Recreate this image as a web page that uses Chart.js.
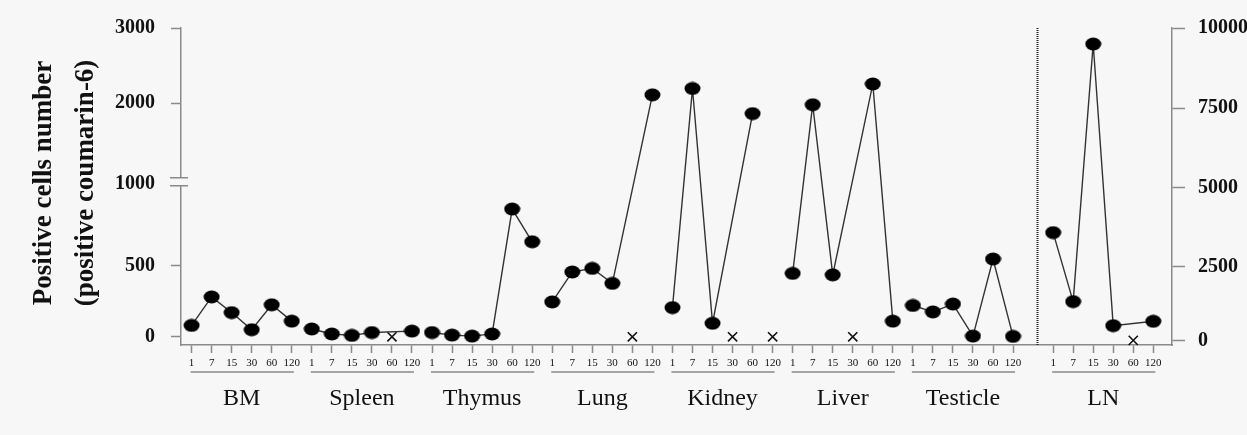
<!DOCTYPE html>
<html><head><meta charset="utf-8">
<script src="https://cdn.jsdelivr.net/npm/chart.js@4/dist/chart.umd.min.js"></script>
<style>html,body{margin:0;padding:0;background:#f7f7f7;}canvas{display:block;}</style>
</head><body>
<canvas id="c" width="1247" height="435"></canvas>
<script>
// ---- data ----
const groups = ['BM', 'Spleen', 'Thymus', 'Lung', 'Kidney', 'Liver', 'Testicle', 'LN'];
const times = ['1', '7', '15', '30', '60', '120'];
const leftTicks = [0, 500, 1000, 2000, 3000];
const rightTicks = [0, 2500, 5000, 7500, 10000];
// null = not detected (drawn as "x" on the baseline)
const bm = [80, 280, 170, 50, 225, 110];
const spleen = [55, 20, 10, 30, null, 40];
const thymus = [30, 12, 5, 20, 845, 645];
const lung = [245, 455, 480, 375, null, 2110];
const kidney = [205, 2195, 95, null, 1870, null];
const liver = [445, 1980, 435, null, 2255, 110];
const testicle = [220, 175, 230, 5, 540, 3];
const ln = [3580, 1320, 9500, 500, null, 650]; // right axis
const seriesValues = [bm, spleen, thymus, lung, kidney, liver, testicle, ln];

// ---- layout helpers ----
const groupStart = [0, 6, 12, 18, 24, 30, 36, 43];
const sepSlot = 42.2;
const BG = '#f7f7f7';
const AXIS = '#8a8a8a';
const SERIF = "'Liberation Serif','Times New Roman',serif";

// piecewise (broken) axis
const scaleMaps = {
  y:  { breaks: leftTicks,  fracs: [0.0258, 0.2506, 0.509, 0.763, 1.0] },
  y2: { breaks: rightTicks, fracs: [0.0146, 0.2463, 0.497, 0.7475, 1.0] }
};
class PiecewiseScale extends Chart.LinearScale {
  _map() { return scaleMaps[this.id]; }
  _toDec(v) {
    const { breaks: b, fracs: f } = this._map();
    let i = 0;
    while (i < b.length - 2 && v > b[i + 1]) i++;
    return f[i] + (v - b[i]) * (f[i + 1] - f[i]) / (b[i + 1] - b[i]);
  }
  getPixelForValue(v) { return this.getPixelForDecimal(this._toDec(v)); }
  getValueForPixel(p) {
    const d = this.getDecimalForPixel(p);
    const { breaks: b, fracs: f } = this._map();
    let i = 0;
    while (i < f.length - 2 && d > f[i + 1]) i++;
    return b[i] + (d - f[i]) * (b[i + 1] - b[i]) / (f[i + 1] - f[i]);
  }
  buildTicks() { return this._map().breaks.map(v => ({ value: v })); }
}
PiecewiseScale.id = 'piecewise';
PiecewiseScale.defaults = {};
Chart.register(PiecewiseScale);

// elliptical marker
const dot = document.createElement('canvas');
dot.width = 17; dot.height = 14;
(() => { const c = dot.getContext('2d'); c.fillStyle = '#000'; c.beginPath(); c.ellipse(8.5, 7, 8, 6.5, 0, 0, Math.PI * 2); c.fill(); })();

const datasets = [];
const missing = { left: [], right: [] };
seriesValues.forEach((vals, g) => {
  const right = g === 7;
  datasets.push({
    label: groups[g],
    data: vals.map((v, i) => ({ x: groupStart[g] + i, y: v })),
    yAxisID: right ? 'y2' : 'y',
    borderColor: '#333', borderWidth: 1.4,
    pointStyle: dot, pointRadius: 8,
    spanGaps: true, clip: false
  });
  vals.forEach((v, i) => { if (v === null) (right ? missing.right : missing.left).push({ x: groupStart[g] + i, y: 0 }); });
});
[['left', 'y'], ['right', 'y2']].forEach(([k, ax]) => datasets.push({
  label: 'not detected ' + k, data: missing[k], yAxisID: ax, showLine: false,
  pointStyle: 'crossRot', pointRadius: 6.5, borderColor: '#111', borderWidth: 1.6, clip: false
}));

const xTicks = groupStart.flatMap(s => times.map((_, i) => s + i));

const decor = {
  id: 'decor',
  beforeDraw(chart) {
    const c = chart.ctx; c.save(); c.fillStyle = BG; c.fillRect(0, 0, chart.width, chart.height); c.restore();
  },
  afterDraw(chart) {
    const c = chart.ctx, a = chart.chartArea, x = chart.scales.x, y = chart.scales.y;
    c.save();
    // dotted separator before LN
    const sx = Math.round(x.getPixelForValue(sepSlot)) + 0.5;
    c.strokeStyle = '#222'; c.lineWidth = 2; c.setLineDash([1, 1]);
    c.beginPath(); c.moveTo(sx, a.top); c.lineTo(sx, a.bottom); c.stroke();
    c.setLineDash([]);
    // axis break at 1000
    const by = y.getPixelForValue(1000);
    c.fillStyle = BG; c.fillRect(a.left - 3, by - 6, 6, 8);
    c.strokeStyle = AXIS; c.lineWidth = 1.5;
    c.beginPath();
    c.moveTo(a.left - 11, by - 6); c.lineTo(a.left + 7, by - 6);
    c.moveTo(a.left - 11, by + 2); c.lineTo(a.left + 7, by + 2);
    c.stroke();
    // group underlines & names
    c.fillStyle = '#111'; c.font = '24px ' + SERIF; c.textAlign = 'center'; c.textBaseline = 'middle';
    groupStart.forEach((s, g) => {
      const x0 = x.getPixelForValue(s), x1 = x.getPixelForValue(s + 5);
      c.strokeStyle = AXIS; c.lineWidth = 1.5;
      c.beginPath(); c.moveTo(x0 - 1, 372); c.lineTo(x1 + 2, 372); c.stroke();
      c.fillText(groups[g], (x0 + x1) / 2, 399);
    });
    // y title
    c.font = 'bold 27px ' + SERIF;
    c.translate(0, 183); c.rotate(-Math.PI / 2);
    c.fillText('Positive cells number', 0, 44);
    c.fillText('(positive coumarin-6)', 0, 86);
    c.restore();
  }
};

new Chart(document.getElementById('c'), {
  type: 'line',
  data: { datasets },
  plugins: [decor],
  options: {
    responsive: false, animation: false, devicePixelRatio: 1,
    layout: { padding: { top: 23, left: 0, right: 0, bottom: 0 } },
    plugins: { legend: { display: false }, tooltip: { enabled: false } },
    scales: {
      x: {
        type: 'linear', min: -0.529, max: 48.933,
        afterBuildTicks: s => { s.ticks = xTicks.map(v => ({ value: v })); },
        afterFit: s => { s.height = 90; },
        grid: { drawOnChartArea: false, drawTicks: true, tickLength: 8, tickColor: AXIS, tickWidth: 1.5 },
        border: { display: true, color: AXIS, width: 1.5 },
        ticks: { autoSkip: false, maxRotation: 0, padding: 4, color: '#111', font: { family: SERIF, size: 11 },
                 callback: (v, i) => times[i % 6] }
      },
      y: {
        type: 'piecewise', position: 'left', min: -40, max: 3000,
        afterFit: s => { s.width = 181; },
        grid: { drawOnChartArea: false, tickLength: 10, tickWidth: 1.5,
                tickColor: ctx => (ctx.tick && ctx.tick.value === 1000) ? 'rgba(0,0,0,0)' : AXIS },
        border: { display: true, color: AXIS, width: 1.5 },
        ticks: { autoSkip: false, padding: 16, color: '#111', font: { family: SERIF, size: 20, weight: 'bold' },
                 callback: v => String(v) }
      },
      y2: {
        type: 'piecewise', position: 'right', min: -80, max: 10000,
        afterFit: s => { s.width = 75; },
        grid: { drawOnChartArea: false, tickLength: 13, tickWidth: 1.5, tickColor: AXIS },
        border: { display: true, color: AXIS, width: 1.5 },
        ticks: { autoSkip: false, padding: 13, color: '#111', font: { family: SERIF, size: 20, weight: 'bold' },
                 callback: v => String(v) }
      }
    }
  }
});
</script>
</body></html>
